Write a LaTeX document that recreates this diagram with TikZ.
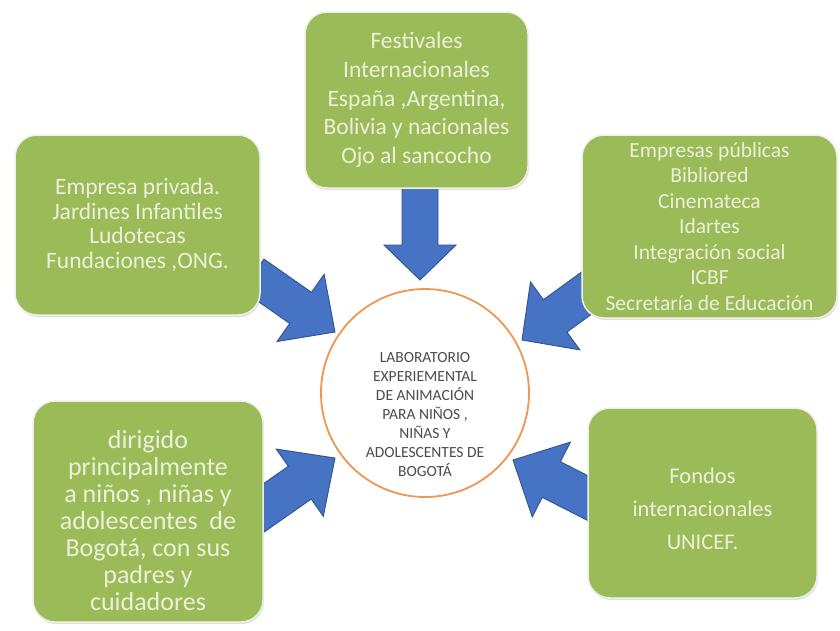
\documentclass[tikz,border=0pt]{standalone}
\usepackage{fontspec}
\setmainfont{Carlito}
\usetikzlibrary{shadows}
\definecolor{boxgreen}{RGB}{155,187,89}
\definecolor{boxtext}{RGB}{234,241,218}
\definecolor{boxedge}{RGB}{238,242,230}
\definecolor{arrowblue}{RGB}{70,115,196}
\definecolor{arrowedge}{RGB}{50,82,145}
\definecolor{ringorange}{RGB}{240,150,80}
\definecolor{hubtextcol}{RGB}{75,75,75}
% tip x, tip y, visual angle, total length, shaft width, head width, head length
\newcommand\bigarrow[7]{%
  \begin{scope}[shift={(#1,#2)}, rotate=#3]
    \draw[blockarrow] (0,0) -- (-#7,#6/2) -- (-#7,#5/2) -- (-#4,#5/2)
      -- (-#4,-#5/2) -- (-#7,-#5/2) -- (-#7,-#6/2) -- cycle;
  \end{scope}}
\begin{document}
\begin{tikzpicture}[x=1pt,y=-1pt,
  greenbox/.style={rectangle, rounded corners=22pt, fill=boxgreen,
    draw=boxedge, line width=1.5pt, text=boxtext, align=center,
    drop shadow={opacity=0.25, shadow xshift=1pt, shadow yshift=-2pt}},
  boxlabel/.style={text=boxtext, align=center},
  blockarrow/.style={fill=arrowblue, draw=arrowedge, line width=0.9pt, line join=miter}]
\fill[white] (0,0) rectangle (840,630);
\useasboundingbox (0,0) rectangle (840,630);

% block arrows (drawn first, so boxes cover their tails)
\bigarrow{420}{280}{-90}{95}{36}{72}{35}
\bigarrow{335}{332}{-35}{100}{38}{82}{42}
\bigarrow{522}{340}{-144}{100}{40}{84}{41}
\bigarrow{335}{458}{35}{100}{40}{82}{43}
\bigarrow{513}{460}{153}{100}{40}{84}{43}

% green boxes
\node[greenbox, minimum width=223pt, minimum height=176pt,
  font=\fontsize{23.5}{28.7}\selectfont] (top) at (416.5,100)
  {Festivales\\Internacionales\\España ,Argentina,\\Bolivia y nacionales\\Ojo al sancocho};
\node[greenbox, minimum width=245pt, minimum height=180pt,
  font=\fontsize{23.5}{24.5}\selectfont] (lefttop) at (137.5,225)
  {Empresa privada.\\Jardines Infantiles\\Ludotecas\\Fundaciones ,ONG.};
\node[greenbox, minimum width=255pt, minimum height=183pt,
  font=\fontsize{21.5}{25.5}\selectfont] (righttop) at (709.5,226.5)
  {Empresas públicas\\Bibliored\\Cinemateca\\Idartes\\Integración social\\ICBF\\Secretaría de Educación};
\node[greenbox, minimum width=230pt, minimum height=221pt] (leftbottom) at (148,511.5) {};
\node[boxlabel, font=\fontsize{26}{27}\selectfont] (leftbottomtext) at (148,521)
  {dirigido\\principalmente\\a niños , niñas y\\adolescentes~ de\\Bogotá, con sus\\padres y\\cuidadores};
\node[greenbox, minimum width=229pt, minimum height=190pt] (rightbottom) at (702.5,503) {};
\node[boxlabel, font=\fontsize{22.5}{33}\selectfont] (rightbottomtext) at (702.5,509)
  {Fondos\\internacionales\\UNICEF.};

% central circle
\node[circle, draw=ringorange, line width=1.8pt, fill=white,
  minimum size=208pt] (hub) at (425,393) {};
\node[text=hubtextcol, align=center, font=\fontsize{15.5}{19}\selectfont]
  (hubtext) at (425,415)
  {LABORATORIO\\EXPERIEMENTAL\\DE ANIMACIÓN\\PARA NIÑOS ,\\NIÑAS Y\\ADOLESCENTES DE\\BOGOTÁ};
\end{tikzpicture}
\end{document}
